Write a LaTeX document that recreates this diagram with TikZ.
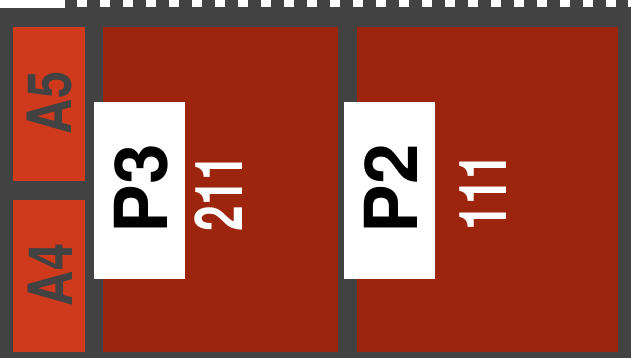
\documentclass[tikz,border=0pt]{standalone}
\usepackage{fontspec}
\setmainfont{TeX Gyre Heros}
\definecolor{frame}{HTML}{424242}
\definecolor{abox}{HTML}{CF391C}
\definecolor{pbox}{HTML}{9D250E}
\tikzset{
  x=1pt, y=-1pt,
  abox/.style={fill=abox, draw=none},
  pbox/.style={fill=pbox, draw=none},
  label/.style={fill=white, draw=none},
  alabel/.style={text=frame, font=\fontsize{61}{61}\selectfont\bfseries, rotate=90, inner sep=0pt},
  plabel/.style={text=black, font=\fontsize{73}{73}\selectfont\bfseries, rotate=90, inner sep=0pt},
  nlabel/.style={text=white, font=\fontsize{66}{66}\selectfont\bfseries, rotate=90, inner sep=0pt},
}
\begin{document}
\begin{tikzpicture}
\useasboundingbox (0,0) rectangle (635,358);
\fill[white] (0,0) rectangle (635,358);
\fill[frame] (0,0) rectangle (631,358);
\fill[white] (0,0) rectangle (65,8);
\foreach \k in {0,...,23} {
  \fill[white] ({77+23*\k},0) rectangle ({87+23*\k},7.5);
}
\fill[white] (628,0) rectangle (631,7.5);
% left small boxes
\path[abox] (13,27) rectangle (85,181);
\path[abox] (13,200) rectangle (85,352);
% big boxes
\path[pbox] (103,27) rectangle (338,352);
\path[pbox] (357,27) rectangle (618,352);
% white label boxes
\path[label] (94,102) rectangle (185,279);
\path[label] (344,102) rectangle (435,279);
% texts
\node[alabel] (a5) at (50,103) {\scalebox{0.8}[1]{A5}};
\node[alabel] (a4) at (50,275) {\scalebox{0.8}[1]{A4}};
\node[plabel] (p3) at (141,189) {P3};
\node[plabel] (p2) at (391,189) {P2};
\node[nlabel] (n211) at (219,193) {\scalebox{0.7}[1]{211}};
\node[nlabel] (n111) at (483,192) {\scalebox{0.7}[1]{111}};
\end{tikzpicture}
\end{document}
